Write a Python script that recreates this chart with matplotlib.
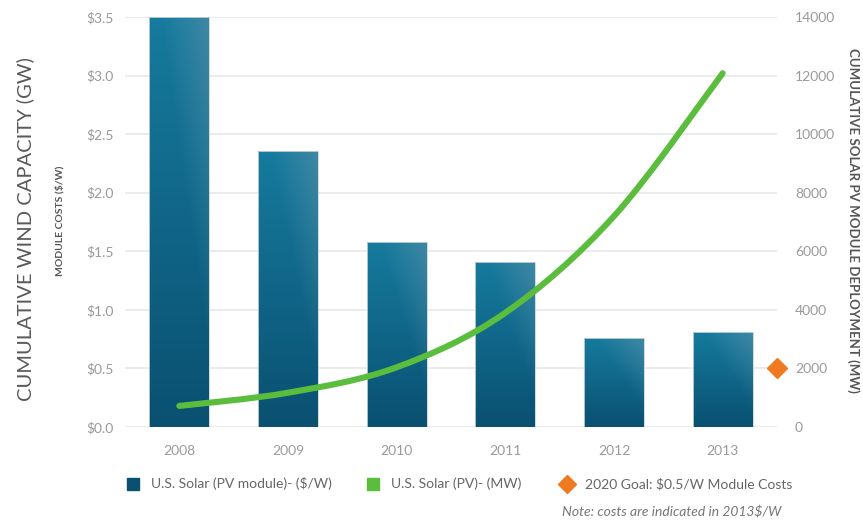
import numpy as np
import matplotlib
matplotlib.use("Agg")
import matplotlib.pyplot as plt
from matplotlib.path import Path
from matplotlib.patches import PathPatch
from matplotlib.lines import Line2D
from matplotlib.colors import to_rgb

# Data
years = ["2008", "2009", "2010", "2011", "2012", "2013"]
module_cost = [3.50, 2.36, 1.58, 1.41, 0.76, 0.81]          # $/W
deployment_mw = [720, 1170, 2040, 3900, 7200, 12080]          # cumulative MW
goal_cost = 0.5                                              # 2020 goal, $/W
cost_ticks = [0.0, 0.5, 1.0, 1.5, 2.0, 2.5, 3.0, 3.5]
mw_ticks = [0, 2000, 4000, 6000, 8000, 10000, 12000, 14000]
legend_labels = ["U.S. Solar (PV module)- ($/W)", "U.S. Solar (PV)- (MW)",
                 "2020 Goal: $0.5/W Module Costs"]

FONT = ["Lato", "DejaVu Sans"]
plt.rcParams["font.family"] = FONT

BAR_BOTTOM = "#0a5071"
BAR_TOP = "#167b9e"
BAR_HILITE = "#5a90a8"
GREEN = "#5bbd3d"
ORANGE = "#ef7a22"
GRID = "#ebebeb"
TICK = "#9a9a9a"

fig = plt.figure(figsize=(8.63, 5.22), dpi=100)
ax = fig.add_axes([125 / 863, 1 - 427 / 522, 652 / 863, 410 / 522])
ax2 = ax.twinx()

x = np.arange(len(years))

# Gridlines
for t in cost_ticks:
    ax.axhline(t, color=GRID, lw=1.4, zorder=0)

# Bars with a vertical gradient fill
bars = ax.bar(x, module_cost, width=0.55, color="none",
              edgecolor="#c9d6dc", linewidth=0.6, zorder=2)
ny, nx = 200, 60
ty = np.linspace(0, 1, ny)[:, None]
tx = np.linspace(0, 1, nx)[None, :]
cb, ct, ch = (np.array(to_rgb(c)) for c in (BAR_BOTTOM, BAR_TOP, BAR_HILITE))
for b in bars:
    h = b.get_height()
    # lighter toward the top and the upper-right corner
    frac = np.clip(ty * np.ones_like(tx), 0, 1)
    base = cb[None, None, :] * (1 - frac[..., None]) + ct[None, None, :] * frac[..., None]
    hw = np.clip((ty + tx - 1.2) / 0.8, 0, 1) * 0.6
    img = base * (1 - hw[..., None]) + ch[None, None, :] * hw[..., None]
    im = ax.imshow(img, origin="lower", aspect="auto", zorder=1.5,
                   extent=(b.get_x(), b.get_x() + b.get_width(), 0, h),
                   interpolation="bilinear")
    im.set_clip_path(b)
ax.set_xlim(-0.5, len(years) - 0.5)
ax.set_ylim(0, 3.5)
ax2.set_ylim(0, 14000)

# Smooth deployment curve (Catmull-Rom through the yearly points)
pts = np.column_stack([x, deployment_mw]).astype(float)
ext = np.vstack([pts[0], pts, pts[-1]])
verts = [tuple(pts[0])]
codes = [Path.MOVETO]
for i in range(len(pts) - 1):
    p0, p1, p2, p3 = ext[i], ext[i + 1], ext[i + 2], ext[i + 3]
    c1 = p1 + (p2 - p0) / 6
    c2 = p2 - (p3 - p1) / 6
    verts += [tuple(c1), tuple(c2), tuple(p2)]
    codes += [Path.CURVE4] * 3
ax2.add_patch(PathPatch(Path(verts, codes), facecolor="none", edgecolor=GREEN,
                        lw=4.4, capstyle="round", joinstyle="round", zorder=3))

# 2020 goal marker on the right edge
ax2.plot([len(years) - 0.5], [goal_cost * 4000], marker="D", ms=10, color=ORANGE,
         mec=ORANGE, clip_on=False, zorder=5)

# Ticks and labels
ax.set_xticks(x)
ax.set_xticklabels(years)
ax.set_yticks(cost_ticks)
ax.set_yticklabels([f"${t:.1f}" for t in cost_ticks])
ax2.set_yticks(mw_ticks)
ax2.set_yticklabels([str(t) for t in mw_ticks])
for a in (ax, ax2):
    a.tick_params(length=0, labelsize=10, colors=TICK)
    for s in a.spines.values():
        s.set_visible(False)
ax.tick_params(axis="x", pad=13)
ax.tick_params(axis="y", pad=8)
ax2.tick_params(axis="y", pad=13)

# Axis titles
fig.text(25 / 863, 1 - 229 / 522, "CUMULATIVE WIND CAPACITY (GW)", rotation=90,
         ha="center", va="center", fontsize=14.5, color="#5a5a5a")
fig.text(60 / 863, 1 - 221 / 522, "MODULE COSTS ($/W)", rotation=90,
         ha="center", va="center", fontsize=7.5, color="#555555", fontweight="bold")
fig.text(853 / 863, 1 - 220 / 522, "CUMULATIVE SOLAR PV MODULE DEPLOYMENT (MW)",
         rotation=270, ha="center", va="center", fontsize=9.5, color="#555555",
         fontweight="bold")

# Legend
leg_y = 1 - 484 / 522
styles = [("s", 8.5, BAR_BOTTOM), ("s", 8.5, GREEN), ("D", 9, ORANGE)]
marker_x = [133, 373, 567]
for (mk, ms, col), mx, lab in zip(styles, marker_x, legend_labels):
    fig.add_artist(Line2D([mx / 863], [leg_y], marker=mk, ms=ms, color=col, lw=0,
                          transform=fig.transFigure))
    fig.text((mx + 18) / 863, leg_y, lab, ha="left", va="center",
             fontsize=10, color="#666666")

fig.text(781 / 863, 1 - 512 / 522, "Note: costs are indicated in 2013$/W",
         ha="right", va="center", fontsize=10, color="#777777", style="italic")

fig.savefig("out.png", dpi=100, facecolor="white")
